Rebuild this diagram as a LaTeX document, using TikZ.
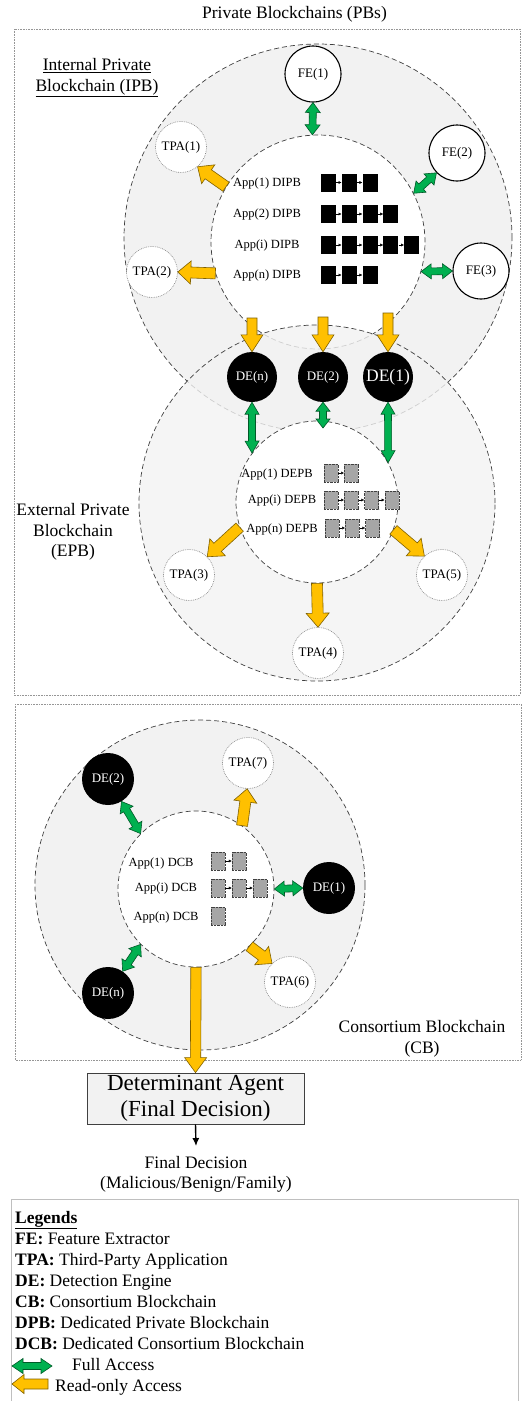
\documentclass[tikz,border=0pt]{standalone}
\usepackage{fontspec}
\setmainfont{Liberation Serif}
\usetikzlibrary{calc,arrows.meta}
\definecolor{bggray}{RGB}{242,242,242}
\definecolor{dashgray}{RGB}{64,64,64}
\definecolor{boxgray}{RGB}{150,150,150}
\definecolor{blockgray}{RGB}{166,166,166}
\definecolor{myorange}{RGB}{255,192,0}
\definecolor{orangeborder}{RGB}{127,96,0}
\definecolor{mygreen}{RGB}{0,176,80}
\definecolor{greenborder}{RGB}{0,90,40}
% single block arrow: style, from, to, shaft half, head half, head length
\newcommand\onearrow[6]{%
  \coordinate (arrHB) at ($(#3)!#6pt!(#2)$);
  \filldraw[#1] ($(#2)!#4pt!90:(#3)$) -- ($(arrHB)!#4pt!90:(#3)$) -- ($(arrHB)!#5pt!90:(#3)$) -- (#3) -- ($(arrHB)!#5pt!-90:(#3)$) -- ($(arrHB)!#4pt!-90:(#3)$) -- ($(#2)!#4pt!-90:(#3)$) -- cycle;%
}
% double block arrow
\newcommand\twoarrow[6]{%
  \coordinate (arrHA) at ($(#2)!#6pt!(#3)$);
  \coordinate (arrHB) at ($(#3)!#6pt!(#2)$);
  \filldraw[#1] (#2) -- ($(arrHA)!#5pt!90:(#3)$) -- ($(arrHA)!#4pt!90:(#3)$) -- ($(arrHB)!#4pt!90:(#3)$) -- ($(arrHB)!#5pt!90:(#3)$) -- (#3) -- ($(arrHB)!#5pt!-90:(#3)$) -- ($(arrHB)!#4pt!-90:(#3)$) -- ($(arrHA)!#4pt!-90:(#3)$) -- ($(arrHA)!#5pt!-90:(#3)$) -- cycle;%
}
\begin{document}
\begin{tikzpicture}[x=1pt,y=-1pt,
  ring/.style={circle, draw=dashgray, dash pattern=on 5pt off 3pt, line width=0.7pt, inner sep=0},
  outerring/.style={ring, fill=bggray},
  innerring/.style={ring, fill=white},
  small/.style={font=\fontsize{13}{15}\selectfont},
  fe/.style={circle, draw=black, line width=1.1pt, fill=white, minimum size=56pt, inner sep=0, small},
  tpa/.style={circle, draw=gray, dash pattern=on 0.8pt off 1pt, line width=0.6pt, fill=white, minimum size=51pt, inner sep=0, small},
  de/.style={circle, fill=black, text=white, minimum size=50pt, inner sep=0, small},
  apptxt/.style={font=\fontsize{12.5}{14}\selectfont, inner sep=0},
  bigtxt/.style={font=\fontsize{17.5}{20.5}\selectfont, align=center, inner sep=0},
  legtxt/.style={font=\fontsize{17.5}{21}\selectfont, anchor=base west, inner sep=0},
  blk/.style={fill=black, minimum width=15pt, minimum height=18pt, inner sep=0},
  gblk/.style={fill=blockgray, draw=dashgray, dash pattern=on 0.6pt off 0.8pt, line width=0.5pt, minimum width=14pt, minimum height=18pt, inner sep=0},
  link/.style={-{Latex[length=3pt,width=3pt]}, line width=0.4pt},
  frame/.style={draw=boxgray, dash pattern=on 0.8pt off 0.8pt, line width=0.6pt},
  orangearr/.style={fill=myorange, draw=orangeborder, line width=0.6pt},
  greenarr/.style={fill=mygreen, draw=greenborder, line width=0.6pt},
  dabox/.style={rectangle, draw=dashgray, line width=0.8pt, fill=bggray, minimum width=217pt, minimum height=51pt, align=center, inner sep=0, font=\fontsize{23}{26}\selectfont}
]
\useasboundingbox (0,0) rectangle (522,1401);

% frames
\draw[frame] (14,29) rectangle (520,695);
\draw[frame] (15,704) rectangle (521,1060);

\node[bigtxt] (title) at (294.5,14) {Private Blockchains (PBs)};

% ---------- IPB / EPB rings
\node[outerring, minimum size=388pt] (ipbout) at (318,238) {};
\node[innerring, minimum size=214pt] (ipbin) at (318,242) {};
\node[outerring, fill opacity=0.8, minimum size=356pt] (epbout) at (317,503) {};
\node[innerring, minimum size=162pt] (epbin) at (317,502) {};

\node[bigtxt] (ipblbl) at (97,78) {\underline{Internal Private}\\\underline{Blockchain (IPB)}};
\node[bigtxt] (epblbl) at (73,532) {External Private\\Blockchain\\(EPB)};

% IPB contents
\node[apptxt] (ipa) at (267,183) {App(1) DIPB};
\node[apptxt] (ipb) at (267,214) {App(2) DIPB};
\node[apptxt] (ipc) at (267,245) {App(i) DIPB};
\node[apptxt] (ipd) at (267,275) {App(n) DIPB};
\foreach \r/\n/\y in {ipA/3/182.5, ipB/4/214, ipC/5/245, ipD/3/275} {
  \foreach \i in {1,...,\n} \node[blk] (\r\i) at ({328.5+(\i-1)*20.8},\y) {};
  \foreach \i [evaluate=\i as \p using int(\i-1)] in {2,...,\n} \draw[link] (\r\p.east) -- (\r\i.west);
}

\node[fe] (fe1) at (313,74) {FE(1)};
\node[fe] (fe2) at (457,153) {FE(2)};
\node[fe] (fe3) at (481,271) {FE(3)};
\node[tpa] (tpa1) at (181,147) {TPA(1)};
\node[tpa] (tpa2) at (152,272) {TPA(2)};

% EPB contents
\node[apptxt] (epa) at (277,474) {App(1) DEPB};
\node[apptxt] (epb) at (282,500) {App(i) DEPB};
\node[apptxt] (epc) at (282,529) {App(n) DEPB};
\foreach \r/\n/\y/\s in {epA/2/473/331, epB/4/500/331, epC/3/528/332} {
  \foreach \i in {1,...,\n} \node[gblk] (\r\i) at ({\s+(\i-1)*20.3},\y) {};
  \foreach \i [evaluate=\i as \p using int(\i-1)] in {2,...,\n} \draw[link] (\r\p.east) -- (\r\i.west);
}
\node[tpa] (tpa3) at (189,575) {TPA(3)};
\node[tpa] (tpa4) at (318,653) {TPA(4)};
\node[tpa] (tpa5) at (442,575) {TPA(5)};

% DE nodes between IPB and EPB
\node[de] (den) at (252,377) {DE(n)};
\node[de] (de2) at (323,377) {DE(2)};
\node[de, font=\fontsize{17.5}{20}\selectfont] (de1) at (388,377) {DE(1)};

% arrows IPB
\twoarrow{greenarr}{fe1.south}{ipbin.93}{3.5}{7.5}{10}
\twoarrow{greenarr}{fe2.224}{ipbin.27}{3.5}{7.5}{10}
\twoarrow{greenarr}{fe3.west}{ipbin.-16}{3.5}{7.5}{10}
\onearrow{orangearr}{ipbin.149}{tpa1.-50}{5.5}{11.5}{13}
\onearrow{orangearr}{ipbin.197}{tpa2.east}{5.5}{11.5}{13}
\coordinate (tden) at (252,318);
\coordinate (tde2) at (323,317);
\coordinate (tde1) at (388,313);
\onearrow{orangearr}{tden}{den.north}{5}{11}{17}
\onearrow{orangearr}{tde2}{de2.north}{5}{11}{17}
\onearrow{orangearr}{tde1}{de1.north}{5}{11}{17}

% arrows EPB
\coordinate (hde2) at (323,428);
\twoarrow{greenarr}{den.south}{epbin.143}{3.5}{7}{12}
\twoarrow{greenarr}{de2.south}{hde2}{3.5}{7}{9}
\twoarrow{greenarr}{de1.south}{epbin.29}{3.5}{7}{12}
\onearrow{orangearr}{epbin.198}{tpa3.45}{5.5}{11.5}{14}
\onearrow{orangearr}{epbin.south}{tpa4.north}{5.5}{11.5}{14}
\onearrow{orangearr}{epbin.-20}{tpa5.133}{5.5}{11.5}{14}

% ---------- CB
\node[outerring, minimum size=330pt] (cbout) at (200,885) {};
\node[innerring, minimum size=156pt] (cbin) at (196,889) {};
\node[bigtxt] (cblbl) at (422,1039) {Consortium Blockchain\\(CB)};

\node[apptxt] (cba) at (161,863) {App(1) DCB};
\node[apptxt] (cbb) at (166,888) {App(i) DCB};
\node[apptxt] (cbc) at (166,917) {App(n) DCB};
\foreach \r/\n/\y in {cbA/2/861, cbB/3/888} {
  \foreach \i in {1,...,\n} \node[gblk] (\r\i) at ({218+(\i-1)*21},\y) {};
  \foreach \i [evaluate=\i as \p using int(\i-1)] in {2,...,\n} \draw[link] (\r\p.east) -- (\r\i.west);
}
\node[gblk] (cbC1) at (218,916) {};

\node[de, minimum size=52pt] (cde2) at (108,779) {DE(2)};
\node[de, minimum size=52pt] (cde1) at (329,888) {DE(1)};
\node[de, minimum size=52pt] (cden) at (108,993) {DE(n)};
\node[tpa] (tpa7) at (248,763) {TPA(7)};
\node[tpa] (tpa6) at (290,982) {TPA(6)};

\twoarrow{greenarr}{cde2.-59}{cbin.135}{3.5}{7.5}{10}
\twoarrow{greenarr}{cde1.west}{cbin.east}{3.5}{7.5}{10}
\twoarrow{greenarr}{cden.56}{cbin.225}{3.5}{7.5}{10}
\onearrow{orangearr}{cbin.54}{tpa7.-92}{5.5}{11.5}{13}
\onearrow{orangearr}{cbin.-47}{tpa6.134}{5.5}{11.5}{13}

% Determinant agent
\node[dabox] (da) at (195.5,1098.5) {Determinant Agent\\(Final Decision)};
\onearrow{orangearr}{cbin.south}{da.north}{5.2}{11}{15}
\node[bigtxt, font=\fontsize{17.5}{20}\selectfont, outer sep=10pt] (fd) at (196,1174) {Final Decision\\(Malicious/Benign/Family)};
\draw[-{Latex[length=8pt,width=7pt]}, line width=1.4pt] (da.south) -- (fd.north);

% ---------- Legend
\draw[draw=lightgray, line width=0.8pt] (11,1401) -- (11,1199) -- (518,1199) -- (518,1401);
\node[legtxt] (lg0) at (15,1223) {\textbf{\underline{Legends}}};
\node[legtxt] (lg1) at (15,1244) {\textbf{FE:} Feature Extractor};
\node[legtxt] (lg2) at (15,1265) {\textbf{TPA:} Third-Party Application};
\node[legtxt] (lg3) at (15,1286) {\textbf{DE:} Detection Engine};
\node[legtxt] (lg4) at (15,1307) {\textbf{CB:} Consortium Blockchain};
\node[legtxt] (lg5) at (15,1328) {\textbf{DPB:} Dedicated Private Blockchain};
\node[legtxt] (lg6) at (15,1349) {\textbf{DCB:} Dedicated Consortium Blockchain};
\coordinate (fa1) at (12,1366);
\coordinate (fa2) at (52,1366);
\twoarrow{greenarr}{fa1}{fa2}{3.5}{7.5}{11}
\node[legtxt] (lg7) at (72,1370) {Full Access};
\coordinate (ra1) at (48,1384);
\coordinate (ra2) at (12,1384);
\onearrow{orangearr}{ra1}{ra2}{5}{9.5}{12}
\node[legtxt] (lg8) at (55,1391) {Read-only Access};
\end{tikzpicture}
\end{document}
